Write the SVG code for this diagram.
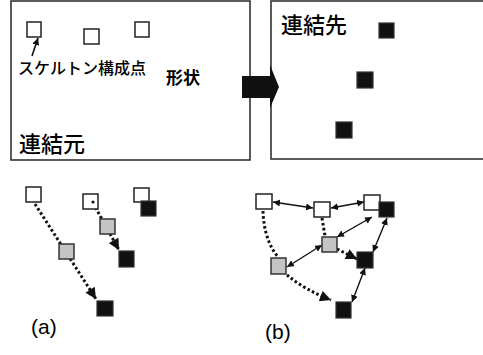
<svg xmlns="http://www.w3.org/2000/svg" width="483" height="355" viewBox="0 0 483 355">
<style>
  .frame{fill:#fff;stroke:#333;stroke-width:1.6}
  .w{fill:#fff;stroke:#222;stroke-width:1.5}
  .g{fill:#c4c4c4;stroke:#333;stroke-width:1.5}
  .b{fill:#111;stroke:#333;stroke-width:1.2}
  .jp{font-family:"Noto Sans CJK JP","Noto Sans CJK SC",sans-serif;fill:#000;font-weight:500}
  .jpb{font-weight:700}
  .lab{font-family:"Liberation Sans",Arial,sans-serif;fill:#000}
  .dot{fill:none;stroke:#111;stroke-width:3;stroke-dasharray:2.6 2.4}
  .dbl{fill:none;stroke:#111;stroke-width:1.4}
</style>
<defs>
  <marker id="ah" viewBox="0 0 10 10" refX="10" refY="5" markerWidth="7" markerHeight="7" markerUnits="userSpaceOnUse" orient="auto-start-reverse">
    <path d="M0,0 L10,5 L0,10 z" fill="#111"/>
  </marker>
  <marker id="dah" viewBox="0 0 10 10" refX="10" refY="5" markerWidth="12" markerHeight="11" markerUnits="userSpaceOnUse" orient="auto">
    <path d="M0,0 L10,5 L0,10 z" fill="#111"/>
  </marker>
</defs>
<rect width="483" height="355" fill="#fff"/>

<g id="source-box">
  <rect class="frame" x="11" y="1" width="239" height="159"/>
  <text class="jp" x="18" y="74" font-size="16">スケルトン構成点</text>
  <text class="jp jpb" x="166" y="84" font-size="17">形状</text>
  <text class="jp" x="19" y="152" font-size="22">連結元</text>
</g>

<g id="target-box">
  <rect class="frame" x="271" y="1" width="215" height="158"/>
  <text class="jp" x="281" y="33" font-size="22">連結先</text>
</g>

<g id="big-arrow">
  <path d="M242,76 H270 V65 L279,87 L270,108 V98 H242 z" fill="#111"/>
</g>

<g id="connectors">
  <line x1="32" y1="56" x2="38" y2="38" stroke="#111" stroke-width="1.6" marker-end="url(#ah)"/>
  <path class="dot" d="M35,204 L96,299" marker-end="url(#dah)"/>
  <path class="dot" d="M93,203 L119,250" marker-end="url(#dah)"/>
  <line class="dbl" x1="273" y1="202" x2="313" y2="208" marker-start="url(#ah)" marker-end="url(#ah)"/>
  <line class="dbl" x1="331" y1="208" x2="364" y2="202" marker-start="url(#ah)" marker-end="url(#ah)"/>
  <line class="dbl" x1="337" y1="237" x2="372" y2="217" marker-start="url(#ah)" marker-end="url(#ah)"/>
  <line class="dbl" x1="287" y1="267" x2="322" y2="245" marker-start="url(#ah)" marker-end="url(#ah)"/>
  <line class="dbl" x1="387" y1="218" x2="373" y2="252" marker-start="url(#ah)" marker-end="url(#ah)"/>
  <line class="dbl" x1="365" y1="268" x2="352" y2="302" marker-start="url(#ah)" marker-end="url(#ah)"/>
  <path class="dot" d="M263,211 Q264,240 278,257"/>
  <path class="dot" d="M322,218 L325,236"/>
  <path class="dot" d="M337,249 L357,259" marker-end="url(#dah)"/>
  <path class="dot" d="M287,275 Q305,290 331,300" marker-end="url(#dah)"/>
</g>

<g id="skeleton-points-source">
  <rect class="w" x="27" y="22" width="14" height="15"/>
  <rect class="w" x="84" y="29" width="15" height="15"/>
  <rect class="w" x="135" y="22" width="14" height="15"/>
</g>

<g id="skeleton-points-target">
  <rect class="b" x="379" y="23" width="15" height="15"/>
  <rect class="b" x="357" y="72" width="16" height="16"/>
  <rect class="b" x="336" y="122" width="16" height="16"/>
</g>

<g id="diagram-a">
  <rect class="w" x="26" y="187" width="15" height="15"/>
  <rect class="w" x="83" y="194" width="15" height="15"/>
  <circle cx="93" cy="202" r="1.6" fill="#111"/>
  <rect class="w" x="134" y="188" width="15" height="14"/>
  <rect class="b" x="141" y="201" width="15" height="15"/>
  <rect class="g" x="59" y="244" width="15" height="15"/>
  <rect class="g" x="100" y="219" width="15" height="15"/>
  <rect class="b" x="119" y="251" width="15" height="16"/>
  <rect class="b" x="97" y="301" width="16" height="15"/>
  <text class="lab" x="31" y="334" font-size="21">(a)</text>
</g>

<g id="diagram-b">
  <rect class="w" x="256" y="194" width="16" height="15"/>
  <rect class="w" x="314" y="202" width="16" height="15"/>
  <rect class="w" x="364" y="195" width="16" height="15"/>
  <rect class="b" x="379" y="202" width="15" height="15"/>
  <rect class="g" x="322" y="237" width="15" height="15"/>
  <rect class="g" x="271" y="258" width="15" height="16"/>
  <rect class="b" x="357" y="252" width="16" height="16"/>
  <rect class="b" x="336" y="302" width="15" height="16"/>
  <text class="lab" x="265" y="339" font-size="21">(b)</text>
</g>
</svg>
